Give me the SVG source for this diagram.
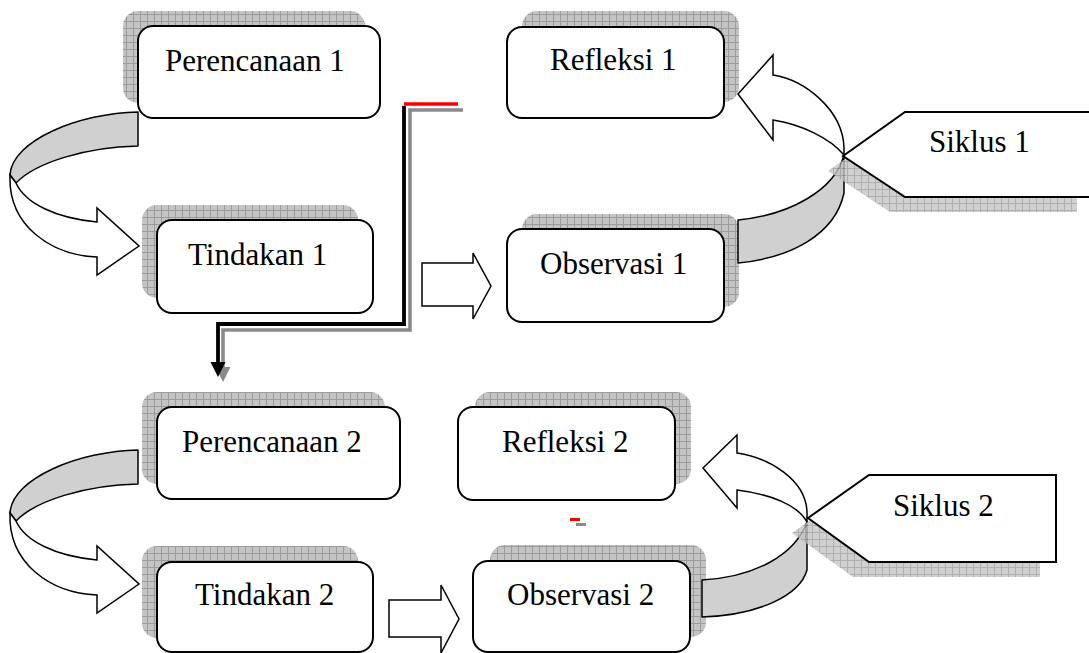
<svg xmlns="http://www.w3.org/2000/svg" width="1089" height="653" viewBox="0 0 1089 653">
<defs>
<pattern id="grid" width="7" height="7" patternUnits="userSpaceOnUse">
<rect width="7" height="7" fill="#c4c4c4"/>
<path d="M0 0.5H7M0.5 0V7" stroke="#9c9c9c" stroke-width="1" fill="none"/>
</pattern>
<style>
.box{fill:#fff;stroke:#000;stroke-width:2}
.sh{fill:url(#grid);stroke:none}
.lbl{font-family:"Liberation Serif","Times New Roman",serif;font-size:31px;fill:#000}
.band{fill:#d0d0d0;stroke:#000;stroke-width:1.5;stroke-linejoin:round}
.arw{fill:#fff;stroke:#000;stroke-width:1.5;stroke-linejoin:miter}
.call{fill:#fff;stroke:#000;stroke-width:2}
</style>
</defs>
<rect width="1089" height="653" fill="#fff"/>

<g id="perencanaan1">
<rect class="sh" x="123" y="11" width="242" height="92" rx="15"/>
<rect class="box" x="138" y="26" width="242" height="92" rx="15"/>
<text class="lbl" x="165" y="71">Perencanaan 1</text>
</g>
<g id="tindakan1">
<rect class="sh" x="142" y="205" width="216" height="93" rx="15"/>
<rect class="box" x="157" y="220" width="216" height="93" rx="15"/>
<text class="lbl" x="188" y="265">Tindakan 1</text>
</g>
<g id="refleksi1">
<rect class="sh" x="522" y="11" width="217" height="91" rx="15"/>
<rect class="box" x="507" y="27" width="217" height="91" rx="15"/>
<text class="lbl" x="550" y="70">Refleksi 1</text>
</g>
<g id="observasi1">
<rect class="sh" x="522" y="214" width="217" height="93" rx="15"/>
<rect class="box" x="507" y="229" width="217" height="93" rx="15"/>
<text class="lbl" x="540" y="274">Observasi 1</text>
</g>
<g id="perencanaan2">
<rect class="sh" x="142" y="392" width="243" height="92" rx="15"/>
<rect class="box" x="157" y="407" width="243" height="92" rx="15"/>
<text class="lbl" x="182" y="452">Perencanaan 2</text>
</g>
<g id="tindakan2">
<rect class="sh" x="142" y="546" width="216" height="92" rx="15"/>
<rect class="box" x="157" y="562" width="216" height="90" rx="15"/>
<text class="lbl" x="195" y="605">Tindakan 2</text>
</g>
<g id="refleksi2">
<rect class="sh" x="475" y="392" width="216" height="92" rx="15"/>
<rect class="box" x="458" y="407" width="217" height="93" rx="15"/>
<text class="lbl" x="502" y="452">Refleksi 2</text>
</g>
<g id="observasi2">
<rect class="sh" x="490" y="545" width="216" height="92" rx="15"/>
<rect class="box" x="473" y="561" width="217" height="91" rx="15"/>
<text class="lbl" x="507" y="605">Observasi 2</text>
</g>

<g id="connectors">
<!-- left curved arrow 1 -->
<g id="curve-left-1">
<path class="band" d="M138,112 C80,113 12,140 10,175 L16,183 C35,163 85,147 138,146 Z"/>
<path class="arw" d="M10,175 C8,225 50,255 97,257 L97,275 L139,246 L97,208 L97,222 C55,218 25,203 16,183 Z"/>
</g>
<!-- left curved arrow 2 -->
<g id="curve-left-2" transform="translate(0,338)">
<path class="band" d="M138,112 C80,113 12,140 10,175 L16,183 C35,163 85,147 138,146 Z"/>
<path class="arw" d="M10,175 C8,225 50,255 97,257 L97,275 L139,246 L97,208 L97,222 C55,218 25,203 16,183 Z"/>
</g>
<!-- block arrows -->
<path class="arw" d="M422,263 L473,263 L473,253 L491,286 L473,319 L473,306 L422,306 Z"/>
<path class="arw" d="M389,600 L441,600 L441,585 L459,619 L441,653 L441,637 L389,637 Z"/>
<!-- right curved arrow 1 -->
<g id="curve-right-1">
<path class="band" d="M844,155 L844,193 C835,235 790,258 738,263 L738,220 C790,215 835,190 844,155 Z"/>
<path class="arw" d="M773,75 C805,80 843,110 844,148 L844,155 C830,138 800,124 773,120 L773,140 L738,94 L773,55 Z"/>
</g>
<!-- right curved arrow 2 -->
<g id="curve-right-2">
<path class="band" d="M807,522 L807,570 C800,595 760,615 702,617 L702,580 C755,577 795,555 807,522 Z"/>
<path class="arw" d="M737,453 C770,458 806,480 807,512 L807,522 C798,505 770,494 737,490 L737,508 L703,468 L737,435 Z"/>
</g>
<!-- elbow connector with shadow -->
<g id="elbow">
<path d="M463,110 L410,110 L410,330 L223,330 L223,368" fill="none" stroke="#8a8a8a" stroke-width="3.6"/>
<path d="M215.5,367 L230.5,367 L223,382 Z" fill="#8a8a8a"/>
<path d="M404,106 L404,324 L218,324 L218,363" fill="none" stroke="#000" stroke-width="3.8"/>
<path d="M210.5,362 L225.5,362 L218,377 Z" fill="#000"/>
<path d="M404,104 L458,104" stroke="#ff0000" stroke-width="3.6"/>
</g>
<path d="M570,519.5 L580,519.5" stroke="#ff0000" stroke-width="3"/>
<path d="M576,524.5 L586,524.5" stroke="#8a8a8a" stroke-width="3"/>
</g>

<g id="siklus1">
<path class="sh" opacity="0.8" d="M828,171 L890,127 L1077,127 L1077,212 L890,212 Z"/>
<path class="call" d="M843,156 L905,112 L1095,112 L1095,197 L905,197 Z"/>
<text class="lbl" x="929" y="152">Siklus 1</text>
</g>
<g id="siklus2">
<path class="sh" opacity="0.8" d="M792,533 L853,490 L1040,490 L1040,577 L853,577 Z"/>
<path class="call" d="M808,518 L869,475 L1056,475 L1056,562 L869,562 Z"/>
<text class="lbl" x="893" y="516">Siklus 2</text>
</g>
</svg>
